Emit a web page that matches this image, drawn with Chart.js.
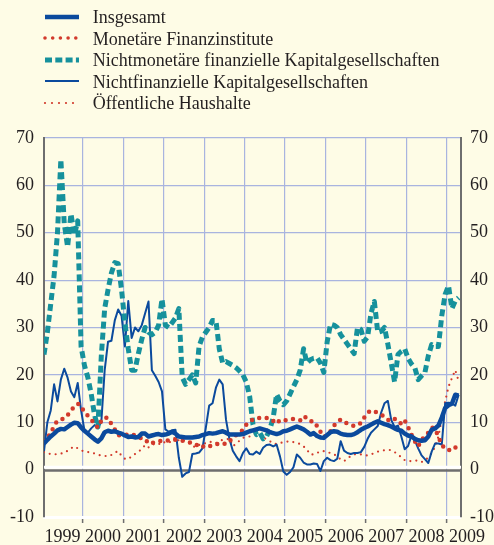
<!DOCTYPE html>
<html>
<head>
<meta charset="utf-8">
<script src="https://cdn.jsdelivr.net/npm/chart.js@4.4.1/dist/chart.umd.min.js"></script>
<style>
  html, body { margin: 0; padding: 0; background: #FEFCE6; }
  #wrap { position: relative; width: 494px; height: 545px; overflow: hidden; }
  #chart { position: absolute; left: 0; top: 0; }
  #legend { position: absolute; left: 0; top: 0; width: 494px; font-family: 'Liberation Serif', 'Times New Roman', serif; font-size: 18px; color: #231F20; }
  .row { position: absolute; left: 43px; height: 20px; white-space: nowrap; }
  .row svg { position: absolute; left: 0; top: 4.4px; }
  .row span { position: absolute; left: 49.7px; top: 0; line-height: 20px; }
</style>
</head>
<body>
<div id="wrap">
  <canvas id="chart" width="494" height="545"></canvas>
  <div id="legend"></div>
</div>
<script>
const startYear = 1999;
const yearLabels = ['1999', '2000', '2001', '2002', '2003', '2004', '2005', '2006', '2007', '2008', '2009'];
const gridYears = [2000, 2001, 2002, 2003, 2004, 2005, 2006, 2007, 2008, 2009];
const yTicks = [-10, 0, 10, 20, 30, 40, 50, 60, 70];

const seriesNames = [
  'Insgesamt',
  'Monetäre Finanzinstitute',
  'Nichtmonetäre finanzielle Kapitalgesellschaften',
  'Nichtfinanzielle Kapitalgesellschaften',
  'Öffentliche Haushalte'
];

// monthly values, Jan 1999 - Apr 2009
const insgesamt = [
  5.5, 6.3, 7.0, 7.6, 8.3, 8.6, 8.5, 9.0, 9.5, 9.9, 9.8, 8.9,
  8.2, 7.6, 7.0, 6.4, 5.9, 6.6, 7.9, 8.2, 8.0, 8.1, 7.8, 7.6,
  7.2, 6.9, 7.0, 6.8, 6.9, 7.6, 7.6, 7.0, 7.2, 7.4, 7.5, 7.3,
  7.4, 7.6, 8.0, 7.6, 7.0, 6.9, 6.8, 6.8, 6.8, 6.9, 7.0, 7.3,
  7.5, 7.7, 7.6, 7.7, 7.9, 8.1, 7.8, 7.4, 7.4, 7.4, 7.4, 7.5,
  7.8, 8.1, 8.3, 8.5, 8.7, 8.5, 8.3, 7.9, 7.7, 7.5, 7.7, 8.1,
  8.2, 8.5, 8.8, 9.1, 8.8, 8.5, 8.0, 7.4, 7.7, 7.1, 6.8, 6.7,
  7.3, 7.9, 8.1, 8.0, 7.6, 7.4, 7.3, 7.3, 7.5, 7.9, 8.4, 8.8,
  9.1, 9.5, 9.9, 10.2, 9.9, 9.6, 9.4, 9.1, 8.7, 8.4, 8.2, 7.6,
  7.2, 7.0, 6.5, 6.2, 6.1, 6.2, 7.0, 8.4, 8.7, 9.3, 11.0, 13.0,
  13.6, 13.9, 15.8, 15.6
];
const monetaer = [
  6.0, 6.8, 7.6, 9.3, 10.3, 10.6, 10.8, 11.5, 12.5, 13.3, 13.9, 13.5,
  12.0, 11.4, 10.6, 9.6, 8.9, 10.3, 11.0, 10.9, 9.6, 8.5, 7.3, 7.2,
  7.3, 7.4, 7.5, 7.2, 6.8, 6.6, 6.5, 5.5, 5.6, 5.8, 6.0, 6.1,
  6.1, 6.2, 6.3, 6.3, 6.2, 6.1, 6.0, 5.8, 5.6, 5.4, 4.7, 4.8,
  5.2, 5.0, 5.0, 5.3, 5.6, 5.5, 5.4, 5.9, 6.9, 7.3, 7.8, 8.4,
  9.5, 10.1, 10.6, 10.9, 10.9, 10.9, 10.9, 10.8, 10.3, 9.7, 10.5, 10.4,
  10.4, 10.5, 10.7, 10.6, 10.4, 11.3, 10.9, 10.6, 9.4, 9.3, 8.0, 6.9,
  7.3, 8.1, 9.3, 9.9, 10.6, 10.2, 9.7, 9.5, 9.2, 9.6, 9.8, 11.0,
  12.0, 12.5, 12.3, 12.0, 11.6, 11.2, 10.5, 10.2, 10.7, 10.5, 9.6, 10.4,
  9.0, 7.4, 6.0, 4.9, 6.3, 7.0, 7.8, 8.9, 8.7, 6.9, 5.3, 4.3,
  4.2, 4.0, 4.6, 5.5
];
const nichtmonetaer = [
  24.3, 29.0, 35.0, 41.0, 50.0, 65.5, 52.0, 47.0, 54.0, 49.5, 52.5, 26.0,
  22.0, 19.5, 16.0, 11.5, 9.0, 24.0, 34.0, 38.0, 41.5, 43.7, 43.5, 38.0,
  31.0, 25.5, 21.0, 21.0, 24.5, 27.5, 30.0, 29.0, 28.5, 29.0, 30.5, 36.0,
  30.5, 30.0, 31.0, 32.0, 34.0, 19.5, 18.0, 19.0, 20.0, 18.3, 26.0, 28.0,
  29.0, 30.0, 31.5, 31.5, 25.5, 22.5, 22.8, 22.4, 22.0, 21.5, 20.8, 20.0,
  18.5, 15.5, 9.5, 7.4, 7.8, 6.5, 7.0, 8.5, 11.0, 15.9, 14.5, 13.7,
  14.5, 16.0, 17.5, 19.0, 21.0, 25.5, 22.5, 23.2, 23.5, 23.6, 22.5, 20.5,
  27.0, 30.7, 30.5, 30.0, 28.5, 27.5, 26.5, 25.5, 24.5, 30.0, 29.6, 27.1,
  28.0, 33.0, 35.5, 29.0, 29.2, 30.0, 26.5, 22.5, 18.5, 24.3, 25.0, 25.5,
  23.5, 22.3, 21.5, 19.0, 19.8, 20.5, 24.0, 26.4, 26.0, 26.0, 32.5, 37.0,
  38.8, 34.0, 35.6, 36.3
];
const nichtfinanziell = [
  3.9, 10.0, 12.5, 18.0, 14.4, 19.0, 21.3, 19.4, 16.5, 15.3, 18.3, 12.5,
  8.3, 7.8, 8.7, 9.4, 8.9, 10.0, 21.0, 27.0, 27.2, 31.5, 33.8, 32.5,
  26.0, 35.6, 27.8, 30.0, 29.2, 30.5, 33.0, 35.5, 21.0, 19.8, 18.5, 16.5,
  8.5, 8.0, 8.3, 8.4, 2.5, -1.5, -0.8, -0.5, 3.3, 3.4, 3.6, 4.5,
  8.8, 13.5, 14.0, 17.3, 19.0, 18.0, 10.5, 6.5, 4.0, 2.8, 1.8, 3.5,
  4.5, 3.3, 3.2, 3.8, 3.3, 4.6, 5.2, 5.3, 4.9, 5.3, 2.8, -0.4,
  -1.1, -0.5, 0.5, 3.2, 2.5, 1.5, 1.1, 1.1, 1.3, 1.2, -0.3, 1.8,
  2.5, 2.0, 1.8, 2.3, 6.0, 4.0, 3.5, 3.3, 3.5, 3.5, 3.7, 4.8,
  6.5, 7.8, 8.5, 9.2, 12.0, 14.0, 14.5, 10.5, 9.0, 9.3, 7.0, 4.3,
  5.0, 7.2, 6.2, 4.5, 3.0, 2.2, 1.4, 3.8, 5.5, 5.5, 5.3, 14.0,
  14.1, 14.0, 13.5, 15.8
];
const oeffentlich = [
  3.7, 3.4, 3.3, 3.2, 3.3, 3.4, 3.5, 4.0, 4.5, 4.9, 4.5, 4.1,
  3.8, 3.7, 3.7, 3.4, 3.1, 3.0, 2.9, 2.8, 3.1, 3.6, 3.9, 2.9,
  2.3, 2.2, 2.8, 3.3, 3.8, 4.3, 5.2, 4.7, 5.3, 5.4, 5.3, 5.9,
  5.7, 5.6, 6.2, 6.9, 6.1, 6.3, 6.0, 5.6, 5.0, 4.7, 5.2, 5.4,
  5.6, 5.9, 5.8, 5.6, 6.0, 6.3, 6.4, 6.5, 4.9, 5.5, 6.1, 6.7,
  6.9, 7.0, 7.5, 7.6, 7.4, 6.8, 6.4, 6.0, 5.5, 5.4, 5.6, 5.8,
  5.9, 6.0, 5.8, 5.6, 5.4, 4.9, 4.2, 3.2, 3.2, 3.5, 3.9, 3.9,
  3.7, 3.5, 3.3, 2.7, 2.2, 1.8, 2.3, 2.9, 3.2, 3.3, 3.2, 3.0,
  3.0, 3.2, 3.5, 3.8, 4.0, 4.1, 4.2, 4.1, 3.7, 3.2, 2.6, 2.0,
  1.8, 1.8, 1.9, 1.9, 1.6, 1.9, 2.6, 3.5, 4.8, 7.0, 10.6, 14.4,
  17.5, 19.3, 21.0, 18.7
];

const blue = '#0B4A9D';
const red = '#D23A2C';
const teal = '#16919C';
const gridBlue = '#A9B4DF';
const axisGrey = '#6E6E6E';
const textColor = '#231F20';
const fontFamily = "'Liberation Serif', 'Times New Roman', serif";

const toPoints = arr => arr.map((v, i) => ({ x: startYear + (i + 0.5) / 12, y: v }));

const styles = [
  { color: blue, width: 4.5, dash: [], cap: 'butt' },
  { color: red, width: 4.5, dash: [0, 7.5], cap: 'round' },
  { color: teal, width: 5, dash: [7, 4], cap: 'butt' },
  { color: blue, width: 2, dash: [], cap: 'butt' },
  { color: red, width: 2.2, dash: [0, 6], cap: 'round' }
];
const values = [insgesamt, monetaer, nichtmonetaer, nichtfinanziell, oeffentlich];

// legend as html
const legendEl = document.getElementById('legend');
seriesNames.forEach((name, i) => {
  const s = styles[i];
  const row = document.createElement('div');
  row.className = 'row';
  row.style.top = (7.3 + i * 21.5) + 'px';
  row.innerHTML =
    '<svg width="38" height="10"><line x1="2" y1="5" x2="36" y2="5" stroke="' + s.color +
    '" stroke-width="' + (i === 1 ? 3.6 : s.width) + '" stroke-linecap="' + s.cap +
    '" stroke-dasharray="' + (i === 1 ? '0 7.7' : i === 4 ? '0 7' : i === 2 ? '7 3.3' : 'none') + '"/></svg>' +
    '<span>' + name + '</span>';
  legendEl.appendChild(row);
});

const zeroLine = {
  id: 'zeroLine',
  beforeDatasetsDraw(chart) {
    const { ctx, chartArea: a, scales } = chart;
    const y0 = scales.y.getPixelForValue(0);
    ctx.save();
    ctx.strokeStyle = '#ffffff';
    ctx.lineWidth = 3;
    ctx.beginPath(); ctx.moveTo(a.left, y0 - 2.5); ctx.lineTo(a.right, y0 - 2.5); ctx.stroke();
    ctx.strokeStyle = axisGrey;
    ctx.lineWidth = 2.5;
    ctx.beginPath(); ctx.moveTo(a.left, y0 + 0.8); ctx.lineTo(a.right, y0 + 0.8); ctx.stroke();
    ctx.restore();
  }
};

const yearText = {
  id: 'yearText',
  afterDraw(chart) {
    const { ctx, chartArea: a, scales } = chart;
    ctx.save();
    ctx.font = '18px ' + fontFamily;
    ctx.fillStyle = textColor;
    ctx.textAlign = 'center';
    ctx.textBaseline = 'alphabetic';
    yearLabels.forEach(y => {
      ctx.fillText(y, scales.x.getPixelForValue(Number(y) + 0.5), a.bottom + 24.5);
    });
    ctx.restore();
  }
};

const yAxis = (position, width, padding) => ({
  position: position,
  min: -10,
  max: 70,
  afterBuildTicks: s => { s.ticks = yTicks.map(v => ({ value: v })); },
  ticks: { padding: padding, color: textColor, font: { family: fontFamily, size: 18 } },
  grid: {
    display: position === 'left',
    drawTicks: false,
    lineWidth: 1.2,
    color: ctx => ctx.tick.value === 0 ? 'rgba(0,0,0,0)' : (ctx.tick.value === -10 ? '#ffffff' : gridBlue)
  },
  border: { display: true, color: axisGrey, width: 2 },
  afterFit: s => { s.width = width; }
});

new Chart(document.getElementById('chart'), {
  type: 'line',
  data: {
    datasets: seriesNames.map((name, i) => ({
      label: name,
      data: toPoints(values[i]),
      borderColor: styles[i].color,
      borderWidth: styles[i].width,
      borderDash: styles[i].dash,
      borderCapStyle: styles[i].cap,
      borderJoinStyle: 'round',
      pointRadius: 0,
      tension: 0,
      fill: false
    }))
  },
  options: {
    responsive: false,
    animation: false,
    devicePixelRatio: 1,
    layout: { padding: { top: 138, left: 0, right: 0, bottom: 0 } },
    plugins: { legend: { display: false }, tooltip: { enabled: false } },
    scales: {
      x: {
        type: 'linear',
        min: startYear + 0.5 / 12,
        max: 2009.35,
        afterBuildTicks: s => { s.ticks = gridYears.map(v => ({ value: v })); },
        ticks: { display: false },
        grid: {
          color: gridBlue,
          lineWidth: 1.2,
          drawTicks: true,
          tickLength: 6,
          tickColor: axisGrey,
          tickWidth: 1.5
        },
        border: { display: true, color: '#ffffff', width: 3 },
        afterFit: s => { s.height = 28; }
      },
      y: yAxis('left', 44, 10),
      y2: yAxis('right', 33, 9)
    }
  },
  plugins: [zeroLine, yearText]
});
</script>
</body>
</html>
